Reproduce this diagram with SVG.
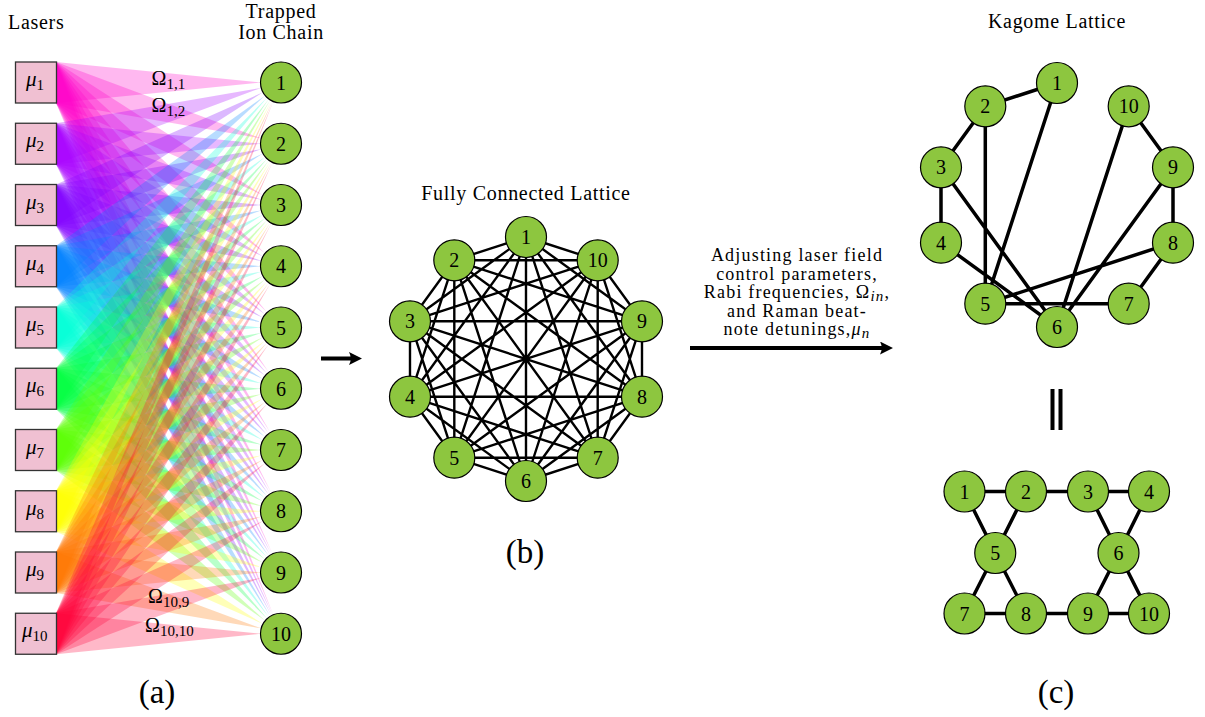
<svg xmlns="http://www.w3.org/2000/svg" width="1205" height="717" viewBox="0 0 1205 717">
<style>
  text { font-family: "Liberation Serif", "Times New Roman", serif; fill: #000; }
  .t { font-size: 20px; letter-spacing: 0.7px; }
  .ttl { font-size: 20px; letter-spacing: 0.7px; text-anchor: middle; }
  .cp { font-size: 18px; letter-spacing: 1.2px; text-anchor: middle; }
  .num { font-size: 20px; text-anchor: middle; }
  .mu { font-size: 21px; }
  .om { font-size: 20px; }
  .sub { font-size: 15px; }
  .it { font-style: italic; }
  .cap { font-size: 33px; text-anchor: middle; }
  .ion { fill: #8dc63f; stroke: #000; stroke-width: 1.2; }
  .box { fill: #f0c0d2; stroke: #333; stroke-width: 1.3; }
  .beam { fill-opacity: 0.28; }
  .full { fill: none; stroke: #000; stroke-width: 2.4; }
  .kag { fill: none; stroke: #000; stroke-width: 3.5; }
  .arr { fill: none; stroke: #000; stroke-width: 4; }
</style>
<defs>
  <!-- beam wedges: laser edge (x=-225 relative to ion) to ion border; index = laser-ion offset -->
  <polygon id="b0" points="-225,-20.5 -225,20.5 -20.5,0"/>
  <polygon id="b1" points="-225,40.75 -225,81.75 -19.78,5.38"/>
  <polygon id="b2" points="-225,102 -225,143 -18.01,9.8"/>
  <polygon id="b3" points="-225,163.25 -225,204.25 -15.88,12.97"/>
  <polygon id="b4" points="-225,224.5 -225,265.5 -13.87,15.1"/>
  <polygon id="b5" points="-225,285.75 -225,326.75 -12.14,16.52"/>
  <polygon id="b6" points="-225,347 -225,388 -10.7,17.48"/>
  <polygon id="b7" points="-225,408.25 -225,449.25 -9.53,18.15"/>
  <polygon id="b8" points="-225,469.5 -225,510.5 -8.55,18.63"/>
  <polygon id="b9" points="-225,530.75 -225,571.75 -7.75,18.98"/>
  <marker id="ah" viewBox="0 0 13 13" refX="5" refY="6.5" markerWidth="13" markerHeight="13" orient="auto" markerUnits="userSpaceOnUse">
    <path d="M13,6.5 L0,0 Q3.5,6.5 0,13 Z" fill="#000"/>
  </marker>
</defs>

<!-- titles -->
<text class="t" x="8" y="29">Lasers</text>
<text class="ttl" x="281" y="18">Trapped</text>
<text class="ttl" x="281" y="39">Ion Chain</text>
<text class="ttl" x="526" y="200">Fully Connected Lattice</text>
<text class="ttl" x="1057" y="28">Kagome Lattice</text>

<!-- laser beams -->
<g id="beams">
<g class="beam" fill="#ff00c8">
  <use href="#b0" transform="translate(281 82.5)"/>
  <use href="#b1" transform="translate(281 143.75) scale(1 -1)"/>
  <use href="#b2" transform="translate(281 205) scale(1 -1)"/>
  <use href="#b3" transform="translate(281 266.25) scale(1 -1)"/>
  <use href="#b4" transform="translate(281 327.5) scale(1 -1)"/>
  <use href="#b5" transform="translate(281 388.75) scale(1 -1)"/>
  <use href="#b6" transform="translate(281 450) scale(1 -1)"/>
  <use href="#b7" transform="translate(281 511.25) scale(1 -1)"/>
  <use href="#b8" transform="translate(281 572.5) scale(1 -1)"/>
  <use href="#b9" transform="translate(281 633.75) scale(1 -1)"/>
</g>
<g class="beam" fill="#a800ff">
  <use href="#b1" transform="translate(281 82.5)"/>
  <use href="#b0" transform="translate(281 143.75)"/>
  <use href="#b1" transform="translate(281 205) scale(1 -1)"/>
  <use href="#b2" transform="translate(281 266.25) scale(1 -1)"/>
  <use href="#b3" transform="translate(281 327.5) scale(1 -1)"/>
  <use href="#b4" transform="translate(281 388.75) scale(1 -1)"/>
  <use href="#b5" transform="translate(281 450) scale(1 -1)"/>
  <use href="#b6" transform="translate(281 511.25) scale(1 -1)"/>
  <use href="#b7" transform="translate(281 572.5) scale(1 -1)"/>
  <use href="#b8" transform="translate(281 633.75) scale(1 -1)"/>
</g>
<g class="beam" fill="#8000ff">
  <use href="#b2" transform="translate(281 82.5)"/>
  <use href="#b1" transform="translate(281 143.75)"/>
  <use href="#b0" transform="translate(281 205)"/>
  <use href="#b1" transform="translate(281 266.25) scale(1 -1)"/>
  <use href="#b2" transform="translate(281 327.5) scale(1 -1)"/>
  <use href="#b3" transform="translate(281 388.75) scale(1 -1)"/>
  <use href="#b4" transform="translate(281 450) scale(1 -1)"/>
  <use href="#b5" transform="translate(281 511.25) scale(1 -1)"/>
  <use href="#b6" transform="translate(281 572.5) scale(1 -1)"/>
  <use href="#b7" transform="translate(281 633.75) scale(1 -1)"/>
</g>
<g class="beam" fill="#0080ff">
  <use href="#b3" transform="translate(281 82.5)"/>
  <use href="#b2" transform="translate(281 143.75)"/>
  <use href="#b1" transform="translate(281 205)"/>
  <use href="#b0" transform="translate(281 266.25)"/>
  <use href="#b1" transform="translate(281 327.5) scale(1 -1)"/>
  <use href="#b2" transform="translate(281 388.75) scale(1 -1)"/>
  <use href="#b3" transform="translate(281 450) scale(1 -1)"/>
  <use href="#b4" transform="translate(281 511.25) scale(1 -1)"/>
  <use href="#b5" transform="translate(281 572.5) scale(1 -1)"/>
  <use href="#b6" transform="translate(281 633.75) scale(1 -1)"/>
</g>
<g class="beam" fill="#00ffd8">
  <use href="#b4" transform="translate(281 82.5)"/>
  <use href="#b3" transform="translate(281 143.75)"/>
  <use href="#b2" transform="translate(281 205)"/>
  <use href="#b1" transform="translate(281 266.25)"/>
  <use href="#b0" transform="translate(281 327.5)"/>
  <use href="#b1" transform="translate(281 388.75) scale(1 -1)"/>
  <use href="#b2" transform="translate(281 450) scale(1 -1)"/>
  <use href="#b3" transform="translate(281 511.25) scale(1 -1)"/>
  <use href="#b4" transform="translate(281 572.5) scale(1 -1)"/>
  <use href="#b5" transform="translate(281 633.75) scale(1 -1)"/>
</g>
<g class="beam" fill="#00ff40">
  <use href="#b5" transform="translate(281 82.5)"/>
  <use href="#b4" transform="translate(281 143.75)"/>
  <use href="#b3" transform="translate(281 205)"/>
  <use href="#b2" transform="translate(281 266.25)"/>
  <use href="#b1" transform="translate(281 327.5)"/>
  <use href="#b0" transform="translate(281 388.75)"/>
  <use href="#b1" transform="translate(281 450) scale(1 -1)"/>
  <use href="#b2" transform="translate(281 511.25) scale(1 -1)"/>
  <use href="#b3" transform="translate(281 572.5) scale(1 -1)"/>
  <use href="#b4" transform="translate(281 633.75) scale(1 -1)"/>
</g>
<g class="beam" fill="#58ff00">
  <use href="#b6" transform="translate(281 82.5)"/>
  <use href="#b5" transform="translate(281 143.75)"/>
  <use href="#b4" transform="translate(281 205)"/>
  <use href="#b3" transform="translate(281 266.25)"/>
  <use href="#b2" transform="translate(281 327.5)"/>
  <use href="#b1" transform="translate(281 388.75)"/>
  <use href="#b0" transform="translate(281 450)"/>
  <use href="#b1" transform="translate(281 511.25) scale(1 -1)"/>
  <use href="#b2" transform="translate(281 572.5) scale(1 -1)"/>
  <use href="#b3" transform="translate(281 633.75) scale(1 -1)"/>
</g>
<g class="beam" fill="#ffff00">
  <use href="#b7" transform="translate(281 82.5)"/>
  <use href="#b6" transform="translate(281 143.75)"/>
  <use href="#b5" transform="translate(281 205)"/>
  <use href="#b4" transform="translate(281 266.25)"/>
  <use href="#b3" transform="translate(281 327.5)"/>
  <use href="#b2" transform="translate(281 388.75)"/>
  <use href="#b1" transform="translate(281 450)"/>
  <use href="#b0" transform="translate(281 511.25)"/>
  <use href="#b1" transform="translate(281 572.5) scale(1 -1)"/>
  <use href="#b2" transform="translate(281 633.75) scale(1 -1)"/>
</g>
<g class="beam" fill="#ff7800">
  <use href="#b8" transform="translate(281 82.5)"/>
  <use href="#b7" transform="translate(281 143.75)"/>
  <use href="#b6" transform="translate(281 205)"/>
  <use href="#b5" transform="translate(281 266.25)"/>
  <use href="#b4" transform="translate(281 327.5)"/>
  <use href="#b3" transform="translate(281 388.75)"/>
  <use href="#b2" transform="translate(281 450)"/>
  <use href="#b1" transform="translate(281 511.25)"/>
  <use href="#b0" transform="translate(281 572.5)"/>
  <use href="#b1" transform="translate(281 633.75) scale(1 -1)"/>
</g>
<g class="beam" fill="#ff0038">
  <use href="#b9" transform="translate(281 82.5)"/>
  <use href="#b8" transform="translate(281 143.75)"/>
  <use href="#b7" transform="translate(281 205)"/>
  <use href="#b6" transform="translate(281 266.25)"/>
  <use href="#b5" transform="translate(281 327.5)"/>
  <use href="#b4" transform="translate(281 388.75)"/>
  <use href="#b3" transform="translate(281 450)"/>
  <use href="#b2" transform="translate(281 511.25)"/>
  <use href="#b1" transform="translate(281 572.5)"/>
  <use href="#b0" transform="translate(281 633.75)"/>
</g>
</g>

<!-- coupling labels -->
<text class="om" x="151.5" y="85">Ω<tspan class="sub" dy="4">1,1</tspan></text>
<text class="om" x="151.5" y="112">Ω<tspan class="sub" dy="4">1,2</tspan></text>
<text class="om" x="148" y="603">Ω<tspan class="sub" dy="4">10,9</tspan></text>
<text class="om" x="145" y="632">Ω<tspan class="sub" dy="4">10,10</tspan></text>

<!-- lasers -->
<g id="laser1"><rect class="box" x="15.5" y="62" width="41" height="41"/><text class="mu" x="26" y="86"><tspan class="it">μ</tspan><tspan class="sub" dy="4">1</tspan></text></g>
<g id="laser2"><rect class="box" x="15.5" y="123.25" width="41" height="41"/><text class="mu" x="26" y="147.25"><tspan class="it">μ</tspan><tspan class="sub" dy="4">2</tspan></text></g>
<g id="laser3"><rect class="box" x="15.5" y="184.5" width="41" height="41"/><text class="mu" x="26" y="208.5"><tspan class="it">μ</tspan><tspan class="sub" dy="4">3</tspan></text></g>
<g id="laser4"><rect class="box" x="15.5" y="245.75" width="41" height="41"/><text class="mu" x="26" y="269.75"><tspan class="it">μ</tspan><tspan class="sub" dy="4">4</tspan></text></g>
<g id="laser5"><rect class="box" x="15.5" y="307" width="41" height="41"/><text class="mu" x="26" y="331"><tspan class="it">μ</tspan><tspan class="sub" dy="4">5</tspan></text></g>
<g id="laser6"><rect class="box" x="15.5" y="368.25" width="41" height="41"/><text class="mu" x="26" y="392.25"><tspan class="it">μ</tspan><tspan class="sub" dy="4">6</tspan></text></g>
<g id="laser7"><rect class="box" x="15.5" y="429.5" width="41" height="41"/><text class="mu" x="26" y="453.5"><tspan class="it">μ</tspan><tspan class="sub" dy="4">7</tspan></text></g>
<g id="laser8"><rect class="box" x="15.5" y="490.75" width="41" height="41"/><text class="mu" x="26" y="514.75"><tspan class="it">μ</tspan><tspan class="sub" dy="4">8</tspan></text></g>
<g id="laser9"><rect class="box" x="15.5" y="552" width="41" height="41"/><text class="mu" x="26" y="576"><tspan class="it">μ</tspan><tspan class="sub" dy="4">9</tspan></text></g>
<g id="laser10"><rect class="box" x="15.5" y="613.25" width="41" height="41"/><text class="mu" x="22" y="637.25"><tspan class="it">μ</tspan><tspan class="sub" dy="4">10</tspan></text></g>

<!-- ions -->
<g id="ion1"><circle class="ion" cx="281" cy="82.5" r="20.5"/><text class="num" x="281" y="89.5">1</text></g>
<g id="ion2"><circle class="ion" cx="281" cy="143.75" r="20.5"/><text class="num" x="281" y="150.75">2</text></g>
<g id="ion3"><circle class="ion" cx="281" cy="205" r="20.5"/><text class="num" x="281" y="212">3</text></g>
<g id="ion4"><circle class="ion" cx="281" cy="266.25" r="20.5"/><text class="num" x="281" y="273.25">4</text></g>
<g id="ion5"><circle class="ion" cx="281" cy="327.5" r="20.5"/><text class="num" x="281" y="334.5">5</text></g>
<g id="ion6"><circle class="ion" cx="281" cy="388.75" r="20.5"/><text class="num" x="281" y="395.75">6</text></g>
<g id="ion7"><circle class="ion" cx="281" cy="450" r="20.5"/><text class="num" x="281" y="457">7</text></g>
<g id="ion8"><circle class="ion" cx="281" cy="511.25" r="20.5"/><text class="num" x="281" y="518.25">8</text></g>
<g id="ion9"><circle class="ion" cx="281" cy="572.5" r="20.5"/><text class="num" x="281" y="579.5">9</text></g>
<g id="ion10"><circle class="ion" cx="281" cy="633.75" r="20.5"/><text class="num" x="281" y="640.75">10</text></g>

<!-- connectors -->
<g id="connectors">
  <line class="arr" x1="321" y1="358.5" x2="354" y2="358.5" marker-end="url(#ah)"/>
  <line class="arr" x1="690" y1="348" x2="885" y2="348" marker-end="url(#ah)"/>
  <path class="full" d="M526 237L454.3 260.3M526 237L410 321.3M526 237L410 396.7M526 237L454.3 457.7M526 237L526 481M526 237L597.7 457.7M526 237L642 396.7M526 237L642 321.3M526 237L597.7 260.3
    M454.3 260.3L410 321.3M454.3 260.3L410 396.7M454.3 260.3L454.3 457.7M454.3 260.3L526 481M454.3 260.3L597.7 457.7M454.3 260.3L642 396.7M454.3 260.3L642 321.3M454.3 260.3L597.7 260.3
    M410 321.3L410 396.7M410 321.3L454.3 457.7M410 321.3L526 481M410 321.3L597.7 457.7M410 321.3L642 396.7M410 321.3L642 321.3M410 321.3L597.7 260.3
    M410 396.7L454.3 457.7M410 396.7L526 481M410 396.7L597.7 457.7M410 396.7L642 396.7M410 396.7L642 321.3M410 396.7L597.7 260.3
    M454.3 457.7L526 481M454.3 457.7L597.7 457.7M454.3 457.7L642 396.7M454.3 457.7L642 321.3M454.3 457.7L597.7 260.3
    M526 481L597.7 457.7M526 481L642 396.7M526 481L642 321.3M526 481L597.7 260.3
    M597.7 457.7L642 396.7M597.7 457.7L642 321.3M597.7 457.7L597.7 260.3
    M642 396.7L642 321.3M642 396.7L597.7 260.3
    M642 321.3L597.7 260.3"/>
  <path class="kag" d="M1057 83L985.3 106.3M985.3 106.3L941 167.3M941 167.3L941 242.7M1057 83L985.3 303.7M985.3 106.3L985.3 303.7
    M941 167.3L1057 327M941 242.7L1057 327M985.3 303.7L1128.7 303.7M985.3 303.7L1173 242.7M1128.7 303.7L1173 242.7
    M1173 242.7L1173 167.3M1173 167.3L1128.7 106.3M1057 327L1173 167.3M1057 327L1128.7 106.3"/>
  <path class="kag" d="M964.5 491.5L1149 491.5M964.5 491.5L995.25 553M1026 491.5L995.25 553M1088 491.5L1118.5 553M1149 491.5L1118.5 553
    M995.25 553L964.5 613.5M995.25 553L1026 613.5M964.5 613.5L1149 613.5M1118.5 553L1088 613.5M1118.5 553L1149 613.5"/>
  <rect x="1050.5" y="389" width="4" height="41" fill="#000"/>
  <rect x="1058.5" y="389" width="4" height="41" fill="#000"/>
</g>

<!-- arrow caption -->
<text class="cp" x="797" y="261">Adjusting laser field</text>
<text class="cp" x="797" y="279.5">control parameters,</text>
<text class="cp" x="797" y="298">Rabi frequencies, Ω<tspan class="sub it" dy="3">in</tspan><tspan dy="-3">,</tspan></text>
<text class="cp" x="797" y="316.5">and Raman beat-</text>
<text class="cp" x="797" y="335">note detunings,<tspan class="it">μ</tspan><tspan class="sub it" dy="3">n</tspan></text>

<!-- fully connected lattice nodes -->
<g id="fc1"><circle class="ion" cx="526" cy="237" r="20.5"/><text class="num" x="526" y="244">1</text></g>
<g id="fc2"><circle class="ion" cx="454.3" cy="260.3" r="20.5"/><text class="num" x="454.3" y="267.3">2</text></g>
<g id="fc3"><circle class="ion" cx="410" cy="321.3" r="20.5"/><text class="num" x="410" y="328.3">3</text></g>
<g id="fc4"><circle class="ion" cx="410" cy="396.7" r="20.5"/><text class="num" x="410" y="403.7">4</text></g>
<g id="fc5"><circle class="ion" cx="454.3" cy="457.7" r="20.5"/><text class="num" x="454.3" y="464.7">5</text></g>
<g id="fc6"><circle class="ion" cx="526" cy="481" r="20.5"/><text class="num" x="526" y="488">6</text></g>
<g id="fc7"><circle class="ion" cx="597.7" cy="457.7" r="20.5"/><text class="num" x="597.7" y="464.7">7</text></g>
<g id="fc8"><circle class="ion" cx="642" cy="396.7" r="20.5"/><text class="num" x="642" y="403.7">8</text></g>
<g id="fc9"><circle class="ion" cx="642" cy="321.3" r="20.5"/><text class="num" x="642" y="328.3">9</text></g>
<g id="fc10"><circle class="ion" cx="597.7" cy="260.3" r="20.5"/><text class="num" x="597.7" y="267.3">10</text></g>

<!-- kagome ring nodes -->
<g id="kr1"><circle class="ion" cx="1057" cy="83" r="20.5"/><text class="num" x="1057" y="90">1</text></g>
<g id="kr2"><circle class="ion" cx="985.3" cy="106.3" r="20.5"/><text class="num" x="985.3" y="113.3">2</text></g>
<g id="kr3"><circle class="ion" cx="941" cy="167.3" r="20.5"/><text class="num" x="941" y="174.3">3</text></g>
<g id="kr4"><circle class="ion" cx="941" cy="242.7" r="20.5"/><text class="num" x="941" y="249.7">4</text></g>
<g id="kr5"><circle class="ion" cx="985.3" cy="303.7" r="20.5"/><text class="num" x="985.3" y="310.7">5</text></g>
<g id="kr6"><circle class="ion" cx="1057" cy="327" r="20.5"/><text class="num" x="1057" y="334">6</text></g>
<g id="kr7"><circle class="ion" cx="1128.7" cy="303.7" r="20.5"/><text class="num" x="1128.7" y="310.7">7</text></g>
<g id="kr8"><circle class="ion" cx="1173" cy="242.7" r="20.5"/><text class="num" x="1173" y="249.7">8</text></g>
<g id="kr9"><circle class="ion" cx="1173" cy="167.3" r="20.5"/><text class="num" x="1173" y="174.3">9</text></g>
<g id="kr10"><circle class="ion" cx="1128.7" cy="106.3" r="20.5"/><text class="num" x="1128.7" y="113.3">10</text></g>

<!-- kagome grid nodes -->
<g id="kg1"><circle class="ion" cx="964.5" cy="491.5" r="20.5"/><text class="num" x="964.5" y="498.5">1</text></g>
<g id="kg2"><circle class="ion" cx="1026" cy="491.5" r="20.5"/><text class="num" x="1026" y="498.5">2</text></g>
<g id="kg3"><circle class="ion" cx="1088" cy="491.5" r="20.5"/><text class="num" x="1088" y="498.5">3</text></g>
<g id="kg4"><circle class="ion" cx="1149" cy="491.5" r="20.5"/><text class="num" x="1149" y="498.5">4</text></g>
<g id="kg5"><circle class="ion" cx="995.25" cy="553" r="20.5"/><text class="num" x="995.25" y="560">5</text></g>
<g id="kg6"><circle class="ion" cx="1118.5" cy="553" r="20.5"/><text class="num" x="1118.5" y="560">6</text></g>
<g id="kg7"><circle class="ion" cx="964.5" cy="613.5" r="20.5"/><text class="num" x="964.5" y="620.5">7</text></g>
<g id="kg8"><circle class="ion" cx="1026" cy="613.5" r="20.5"/><text class="num" x="1026" y="620.5">8</text></g>
<g id="kg9"><circle class="ion" cx="1088" cy="613.5" r="20.5"/><text class="num" x="1088" y="620.5">9</text></g>
<g id="kg10"><circle class="ion" cx="1149" cy="613.5" r="20.5"/><text class="num" x="1149" y="620.5">10</text></g>

<!-- panel captions -->
<text class="cap" x="157" y="703">(a)</text>
<text class="cap" x="525" y="563">(b)</text>
<text class="cap" x="1056" y="703">(c)</text>
</svg>
